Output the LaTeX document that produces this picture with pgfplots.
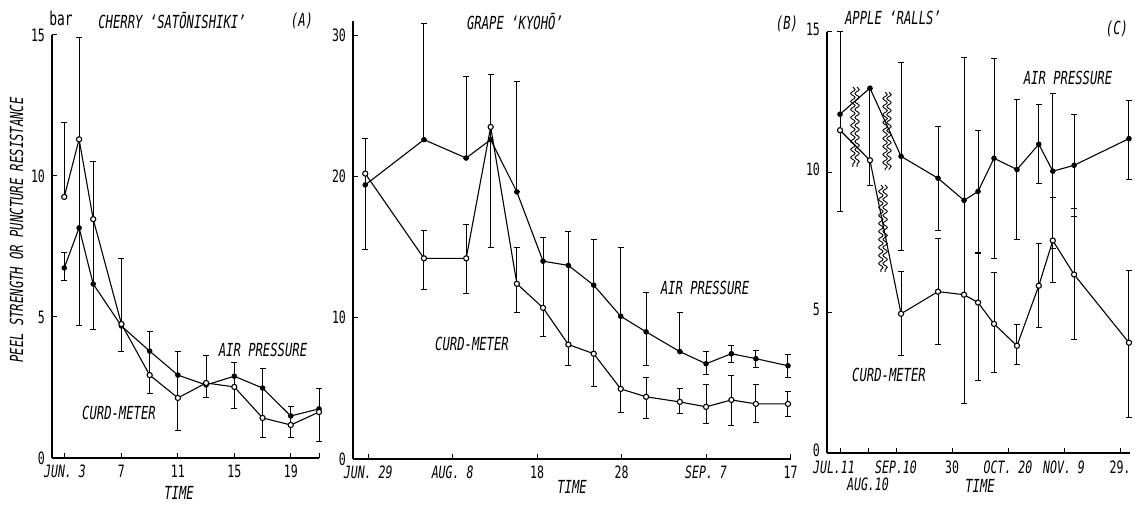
\documentclass[border=0pt]{standalone}
\usepackage{fontspec}
\setmainfont{DejaVu Sans Mono}[FakeStretch=0.68]
\usepackage{pgfplots}
\pgfplotsset{compat=1.18}
\usepackage{pgfplotstable}
\usetikzlibrary{decorations.pathmorphing}

% ---------------- Panel A: cherry ----------------
\pgfplotstableread{
x y
2.95 6.74
4 8.16
5 6.17
7 4.68
9 3.79
11 2.94
13 2.59
15 2.90
17 2.48
19 1.49
21 1.74
}\airA
\pgfplotstableread{
x y
2.95 9.26
4 11.30
5 8.47
7 4.75
9 2.94
11 2.13
13 2.66
15 2.52
17 1.42
19 1.17
21 1.63
}\curdA
\pgfplotstableread{
x lo hi
2.95 9.26 11.88
2.95 6.28 7.27
4 4.70 14.90
5 4.57 10.50
7 3.79 7.06
9 2.30 4.47
11 0.99 3.79
13 2.13 3.65
15 1.74 3.37
17 0.74 3.19
19 0.74 1.84
21 0.60 2.45
}\barsA

% ---------------- Panel B: grape ----------------
\pgfplotstableread{
x y
-0.35 19.4
6.6 22.6
11.6 21.3
14.5 22.6
17.6 18.9
20.7 14.0
23.7 13.7
26.7 12.3
29.9 10.1
32.9 9.0
36.9 7.6
40.0 6.74
43.0 7.45
45.9 7.1
49.7 6.6
}\airB
\pgfplotstableread{
x y
-0.35 20.2
6.6 14.2
11.6 14.2
14.5 23.5
17.6 12.4
20.7 10.7
23.7 8.1
26.7 7.45
29.9 4.96
32.9 4.4
36.9 4.04
40.0 3.69
43.0 4.18
45.9 3.9
49.7 3.9
}\curdB
\pgfplotstableread{
x lo hi
-0.35 14.8 22.7
6.6 22.6 30.85
6.6 12.0 16.2
11.6 21.3 27.1
11.6 11.7 16.6
14.5 15.0 27.2
17.6 18.9 26.7
17.6 10.4 15.0
20.7 8.65 15.7
23.7 6.6 16.1
26.7 5.1 15.5
29.9 3.26 15.0
32.9 6.65 11.8
32.9 2.9 5.8
36.9 7.6 10.4
36.9 3.2 5.0
40.0 6.0 7.6
40.0 2.5 5.25
43.0 6.8 8.0
43.0 2.4 5.9
45.9 6.45 7.7
45.9 2.6 5.25
49.7 5.8 7.4
49.7 3.0 4.75
}\barsB

% ---------------- Panel C: apple ----------------
\pgfplotstableread{
x y
-20 12.07
-9.3 13.0
1.8 10.57
15 9.79
24.3 9.0
29.3 9.32
35 10.5
43.2 10.1
51 11.0
56 10.04
63.6 10.25
83.2 11.2
}\airC
\pgfplotstableread{
x y
-20 11.5
-9.3 10.43
1.8 4.96
15 5.75
24.3 5.64
29.3 5.36
35 4.6
43.2 3.82
51 5.96
56 7.57
63.6 6.36
83.2 3.93
}\curdC
\pgfplotstableread{
x lo hi
-20 8.6 15.0
-9.3 9.54 13.0
1.8 7.2 13.93
1.8 3.46 6.46
15 7.94 11.64
15 3.85 7.65
24.3 1.75 14.1
29.3 7.14 11.5
29.3 2.6 7.1
35 6.93 14.07
35 2.86 6.43
43.2 7.6 12.6
43.2 3.14 4.57
51 9.6 12.4
51 4.46 7.46
56 7.3 12.8
56 6.07 9.1
63.6 8.43 12.07
63.6 4.06 8.7
83.2 9.75 12.57
83.2 1.25 6.5
}\barsC

\pgfplotsset{
  panel/.style={scale only axis, anchor=south west, clip=false,
    axis lines=left, axis line style={-, line width=0.6pt},
    tick align=inside, major tick length=2.5pt,
    tick style={line width=0.5pt, black},
    ymin=0,
    tick label style={font=\fontsize{8.5}{10}\selectfont},
    /pgf/number format/assume math mode=true},
  air/.style={black, line width=0.55pt, mark=*, mark size=1.1pt,
    mark options={solid, fill=black}},
  curd/.style={black, line width=0.55pt, mark=*, mark size=1.3pt,
    mark options={solid, fill=white, draw=black}},
  ebar/.style={draw=none, mark=none, forget plot,
    error bars/.cd, y dir=both, y explicit,
    error bar style={draw=black, line width=0.5pt},
    error mark=-,
    error mark options={draw=black, rotate=90, mark size=1.5pt, line width=0.5pt}},
}
\newcommand{\bars}[1]{\addplot[ebar] table[x=x,
  y expr={0.5*(\thisrow{lo}+\thisrow{hi})},
  y error expr={0.5*(\thisrow{hi}-\thisrow{lo})}] {#1};}
\newcommand{\lab}{\fontsize{9}{10}\selectfont\itshape}

\begin{document}
\begin{tikzpicture}
\useasboundingbox (0,0) rectangle (567.5pt,253pt);

% Panel A
\begin{axis}[panel, at={(26pt,24pt)}, width=133.5pt, height=211.5pt,
  xmin=2.08, xmax=21, ymax=15, ytick={0,5,10,15},
  xtick={3,7,11,15,19,21}, xticklabels={{\textit{JUN. 3}},7,11,15,19,{}}]
\bars{\barsA}
\addplot[air] table[x=x,y=y] {\airA};
\addplot[curd] table[x=x,y=y] {\curdA};
\end{axis}

% Panel B
\begin{axis}[panel, at={(176.5pt,23.5pt)}, width=218.75pt, height=219pt,
  xmin=-1.8, xmax=50, ymax=31, ytick={0,10,20,30},
  xtick={0,10,20,30,40,50},
  xticklabels={{\textit{JUN. 29}},{\textit{AUG. 8}},18,28,{\textit{SEP. 7}},17}]
\bars{\barsB}
\addplot[air] table[x=x,y=y] {\airB};
\addplot[curd] table[x=x,y=y] {\curdB};
\end{axis}

% Panel C
\begin{axis}[panel, at={(413.5pt,26.5pt)}, width=151.5pt, height=210.5pt,
  xmin=-24.64, xmax=83.57, ymax=15, ytick={0,5,10,15},
  yticklabel style={yshift=1.5pt},
  xtick={-20,0,20,40,60,80},
  xticklabel style={yshift=-0.5pt},
  xticklabels={{\hspace*{-6pt}\textit{JUL.11}},{\textit{SEP.10}},30,{\textit{OCT. 20}},{\textit{NOV. 9}},29.},
  extra x ticks={-10}, extra x tick labels={\textit{AUG.10}},
  extra x tick style={tick label style={yshift=-8.5pt}}]
\bars{\barsC}
\addplot[air] table[x=x,y=y] {\airC};
\addplot[curd] table[x=x,y=y] {\curdC};
\begin{scope}[line width=0.45pt, decoration={snake, amplitude=1.1pt, segment length=4pt}]
\draw[decorate] (axis cs:-15.4,13.04) -- (axis cs:-15.4,10.19);
\draw[decorate] (axis cs:-13.9,13.04) -- (axis cs:-13.9,10.19);
\draw[decorate] (axis cs:-3.9,12.86) -- (axis cs:-3.9,10.08);
\draw[decorate] (axis cs:-2.5,12.86) -- (axis cs:-2.5,10.08);
\draw[decorate] (axis cs:-5.4,9.55) -- (axis cs:-5.4,6.45);
\draw[decorate] (axis cs:-3.9,9.55) -- (axis cs:-3.9,6.45);
\end{scope}
\end{axis}

% Texts
\node[font=\fontsize{9.5}{10}\selectfont] at (30.5pt,244pt) {bar};
\node[font=\lab] at (86pt,242.5pt) {CHERRY ‘SATŌNISHIKI’};
\node[font=\lab] at (151pt,242.5pt) {(A)};
\node[font=\lab] at (257.5pt,242pt) {GRAPE ‘KYOHŌ’};
\node[font=\lab] at (393.5pt,241pt) {(B)};
\node[font=\lab] at (446.5pt,244pt) {APPLE ‘RALLS’};
\node[font=\lab] at (558.5pt,238.5pt) {(C)};
\node[font=\lab] at (131.5pt,78pt) {AIR PRESSURE};
\node[font=\lab] at (59.5pt,46.5pt) {CURD-METER};
\node[font=\lab] at (352.5pt,109pt) {AIR PRESSURE};
\node[font=\lab] at (236pt,81pt) {CURD-METER};
\node[font=\lab] at (534pt,214pt) {AIR PRESSURE};
\node[font=\lab] at (444.5pt,65.5pt) {CURD-METER};
\node[font=\lab, rotate=90] at (8.25pt,138pt) {PEEL STRENGTH OR PUNCTURE RESISTANCE};
\node[font=\lab] at (89.5pt,6.5pt) {TIME};
\node[font=\lab] at (286pt,9.5pt) {TIME};
\node[font=\lab] at (490pt,10pt) {TIME};
\end{tikzpicture}
\end{document}
